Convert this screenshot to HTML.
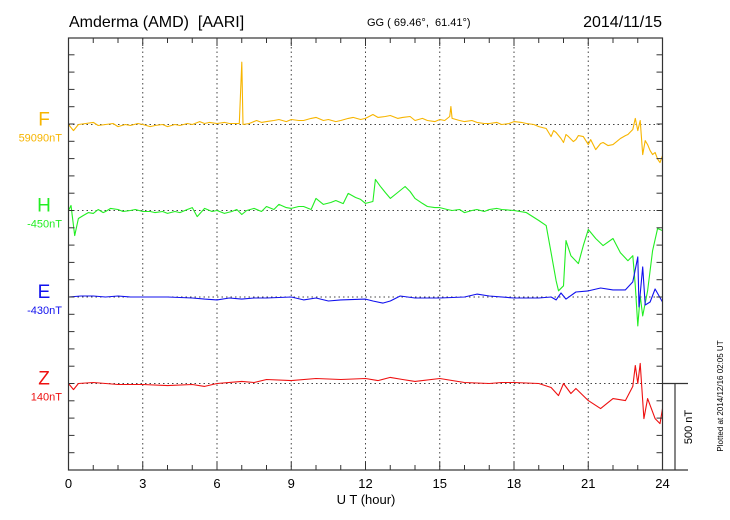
<!DOCTYPE html>
<html><head><meta charset="utf-8"><style>
body{margin:0;background:#fff;}
svg{display:block;font-family:"Liberation Sans",sans-serif;}
</style></head><body>
<svg id="chart" width="730" height="520" viewBox="0 0 730 520">
<text x="69" y="27" font-size="16">Amderma (AMD)&#160;&#160;[AARI]</text>
<text x="367" y="26" font-size="11">GG ( 69.46°,&#160;&#160;61.41°)</text>
<text x="662" y="27" font-size="16" text-anchor="end">2014/11/15</text>
<text x="366" y="504" font-size="13" text-anchor="middle">U T (hour)</text>
<text transform="translate(692,427) rotate(-90)" font-size="11" text-anchor="middle">500 nT</text>
<text transform="translate(723,396) rotate(-90)" font-size="8" text-anchor="middle">Plotted at 2014/12/16 02:05 UT</text>
<g id="grid"></g><g id="series"></g><g id="axes"></g>
</svg>
<script>
const xTicks=[0,3,6,9,12,15,18,21,24];
const fT=[0,0.2,0.4,0.7,1,1.2,1.5,1.8,2,2.3,2.5,2.8,3,3.3,3.5,3.8,4,4.3,4.5,4.8,5,5.3,5.5,5.7,6,6.3,6.5,6.9,7.0,7.05,7.3,7.6,7.8,8,8.3,8.5,8.8,9,9.3,9.5,9.8,10,10.3,10.5,10.8,11,11.3,11.5,11.8,12,12.3,12.5,12.8,13,13.3,13.5,13.8,14,14.3,14.5,14.8,15,15.2,15.4,15.45,15.5,15.8,16,16.3,16.5,16.8,17,17.3,17.5,17.8,18,18.3,18.5,18.8,19,19.3,19.5,19.6,19.7,19.9,20,20.1,20.2,20.4,20.5,20.6,20.8,21,21.1,21.3,21.5,21.6,21.8,22,22.2,22.3,22.5,22.6,22.8,22.9,23,23.1,23.2,23.3,23.4,23.5,23.6,23.7,23.8,23.9,24];
const fV=[0,-35,0,6,12,-6,0,6,-12,0,-6,6,0,-12,-6,0,-12,0,-6,6,0,17,6,12,6,12,6,6,360,0,6,23,12,17,23,29,17,29,23,23,35,41,23,29,17,23,35,41,29,35,58,41,46,52,35,41,46,23,35,23,17,29,23,46,104,35,23,17,23,12,6,6,12,0,6,17,12,6,0,-12,-23,-70,-35,-46,-81,-104,-58,-70,-99,-87,-64,-70,-116,-87,-145,-110,-104,-122,-116,-93,-81,-64,-58,-29,35,-35,23,-174,-93,-116,-151,-174,-162,-200,-220,-180,-151];
const hT=[0,0.1,0.25,0.4,0.6,0.8,1,1.2,1.4,1.5,1.7,2,2.2,2.5,2.7,3,3.3,3.5,3.8,4,4.3,4.5,4.8,5,5.2,5.5,5.8,6,6.3,6.6,6.8,7,7.2,7.5,7.8,8,8.3,8.5,8.8,9,9.3,9.5,9.8,10,10.3,10.6,10.8,11.1,11.3,11.6,11.8,12,12.3,12.4,12.6,12.8,13,13.3,13.6,13.8,14,14.3,14.5,14.8,15,15.3,15.5,15.8,16,16.3,16.5,16.8,17,17.3,17.5,18,18.5,19,19.3,19.5,19.7,19.8,20,20.1,20.3,20.6,20.8,21,21.3,21.6,22,22.3,22.6,22.8,22.9,23,23.1,23.2,23.4,23.6,23.8,24];
const hV=[0,29,-145,-46,-29,-12,-17,6,-12,-6,12,6,-6,0,6,-6,-6,-12,-6,-17,-6,-12,6,17,-35,12,-6,0,-17,-6,6,-23,0,12,-6,23,6,35,17,12,23,23,6,70,35,46,58,40,99,75,64,41,52,180,140,104,70,104,139,110,70,41,23,17,17,6,0,6,-12,0,6,-6,6,12,6,0,-12,-58,-87,-244,-406,-464,-435,-174,-261,-307,-203,-110,-162,-203,-162,-244,-290,-261,-435,-667,-493,-609,-464,-232,-104,-116];
const eT=[0,0.5,1,1.5,2,2.5,3,4,5,5.5,6,6.5,7,7.5,8,9,9.5,10,10.5,11,12,12.3,12.7,13,13.4,14,15,16,16.5,17,18,19,19.5,19.7,19.9,20.1,20.5,21,21.5,22,22.5,22.8,23.0,23.05,23.2,23.3,23.5,23.7,24];
const eV=[0,6,6,0,6,0,0,0,-6,-12,-17,-6,-12,-6,-6,0,-17,-6,-23,-17,-12,-23,-35,-23,6,-6,-6,0,17,6,-6,-6,0,-17,23,-12,29,35,52,41,41,87,232,-58,174,-46,-29,46,-29];
const zT=[0,0.2,0.4,1,2,3,4,5,5.5,6,7,7.5,8,9,10,11,12,12.5,13,13.5,14,15,16,17,17.5,18,19,19.5,19.8,20,20.3,20.5,21,21.5,22,22.5,22.8,22.9,23.0,23.1,23.25,23.4,23.7,23.9,24];
const zV=[0,-35,0,6,-6,-6,-12,-6,-17,0,12,6,23,17,29,23,29,17,35,23,12,29,6,0,6,6,0,-23,-70,0,-58,-29,-99,-145,-87,-99,-17,104,0,116,-203,-87,-203,-232,-145];

const NS='http://www.w3.org/2000/svg';
const X0=68.5,X1=662.5,Y0=38,Y1=470,PXNT=17.3/100;
const base={F:124.5,H:210.5,E:297,Z:383.5};
const xs=h=>X0+(X1-X0)*h/24;
const ys=(k,v)=>base[k]-v*PXNT;
function mk(tag,attrs,parent){const e=document.createElementNS(NS,tag);for(const k in attrs)e.setAttribute(k,attrs[k]);parent.appendChild(e);return e;}
const grid=document.getElementById('grid'),ser=document.getElementById('series'),axes=document.getElementById('axes');
for(const t of xTicks){if(t===0||t===24)continue;
 const l=mk('line',{x1:xs(t),x2:xs(t),y1:Y0,y2:Y1,stroke:'#444','stroke-width':1,'stroke-dasharray':'1.5,3'},grid);
 
 }
for(const k in base){const l=mk('line',{x1:X0,x2:X1,y1:base[k],y2:base[k],stroke:'#444','stroke-width':1,'stroke-dasharray':'1.5,3'},grid);
 
 }
const fr=mk('rect',{x:X0,y:Y0,width:X1-X0,height:Y1-Y0,fill:'none',stroke:'#333','stroke-width':1.2},axes);


mk('line',{x1:X1,x2:688,y1:Y1,y2:Y1,stroke:'#333','stroke-width':1.2},axes);
for(let h=1;h<24;h++){const len=h%3===0?8:5;
 mk('line',{x1:xs(h),x2:xs(h),y1:Y0,y2:Y0+len,stroke:'#333'},axes);
 mk('line',{x1:xs(h),x2:xs(h),y1:Y1,y2:Y1-len,stroke:'#333'},axes);}
for(let y=Y1-17.3;y>Y0+2;y-=17.3){mk('line',{x1:X0,x2:X0+6,y1:y,y2:y,stroke:'#333'},axes);mk('line',{x1:X1,x2:X1-6,y1:y,y2:y,stroke:'#333'},axes);}
for(const t of xTicks){const tx=mk('text',{x:xs(t),y:488,'font-size':13,'text-anchor':'middle'},axes);tx.textContent=t;
 
 }
mk('line',{x1:X1,x2:688,y1:base.Z,y2:base.Z,stroke:'#333','stroke-width':1.2},axes);
const sb=mk('line',{x1:675,x2:675,y1:base.Z,y2:Y1,stroke:'#333','stroke-width':1.2},axes);


const S=[['F',fT,fV,'#f7b500','59090nT'],['H',hT,hV,'#22ee22','-450nT'],['E',eT,eV,'#1010ee','-430nT'],['Z',zT,zV,'#ee1010','140nT']];
for(const [k,T,V,c,lab] of S){
 const d=T.map((t,i)=>(i?'L':'M')+xs(t).toFixed(1)+','+ys(k,V[i]).toFixed(1)).join('');
 const p=mk('path',{d:d,fill:'none',stroke:c,'stroke-width':1.1,'stroke-linejoin':'round'},ser);
 
 
 const t1=mk('text',{x:44,y:base[k]+1,'font-size':19,'text-anchor':'middle',fill:c},axes);t1.textContent=k;
 
 
 const t2=mk('text',{x:62,y:base[k]+17,'font-size':11,'text-anchor':'end',fill:c},axes);t2.textContent=lab;
 
 
}
</script>
</body></html>
